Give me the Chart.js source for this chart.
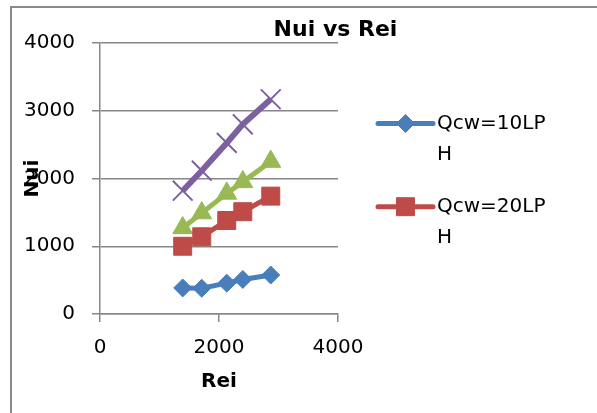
<!DOCTYPE html>
<html>
<head>
<meta charset="utf-8">
<script src="https://cdn.jsdelivr.net/npm/chart.js@4/dist/chart.umd.min.js"></script>
<style>
  html, body { margin: 0; padding: 0; background: #fff; overflow: hidden; }
  #wrap { position: relative; width: 597px; height: 413px; overflow: hidden; }
  #frame { position: absolute; left: 10px; top: 6px; right: -20px; bottom: -20px;
           border-left: 2px solid #898989; border-top: 2px solid #898989; pointer-events: none; }
  canvas { position: absolute; left: 0; top: 0; }
</style>
</head>
<body>
<div id="wrap">
  <canvas id="c" width="597" height="413"></canvas>
  <div id="frame"></div>
</div>
<script>
// ---- data ----
const chartTitle = "Nui vs Rei";
const xAxisTitle = "Rei";
const yAxisTitle = "Nui";
const reiValues = [1390, 1710, 2130, 2400, 2870];
const seriesNames = ["Qcw=10LPH", "Qcw=20LPH", "Qcw=30LPH", "Qcw=40LPH"];
const nuQcw10 = [385, 380, 455, 510, 575];
const nuQcw20 = [1000, 1140, 1380, 1510, 1740];
const nuQcw30 = [1270, 1490, 1780, 1950, 2250];
const nuQcw40 = [1820, 2115, 2525, 2800, 3170];
const xTicks = [0, 2000, 4000];
const yTicks = [0, 1000, 2000, 3000, 4000];
const legendShown = 2; // legend in the reference only shows the first two series

const colors = ["#4A7EBB", "#BE4B48", "#98B954", "#7D60A0"];
const markers = ["rectRot", "rect", "triangle", "crossRot"];
const markerRadius = [9, 12.7, 11.5, 14];

function toPoints(ys) { return reiValues.map((x, i) => ({ x: x, y: ys[i] })); }
const allSeries = [nuQcw10, nuQcw20, nuQcw30, nuQcw40];

const datasets = allSeries.map((ys, i) => ({
  label: seriesNames[i],
  data: toPoints(ys),
  borderColor: colors[i],
  backgroundColor: colors[i],
  borderWidth: i === 3 ? 6 : 5,
  pointStyle: markers[i],
  pointRadius: markerRadius[i],
  pointHoverRadius: markerRadius[i],
  pointBackgroundColor: colors[i],
  pointBorderColor: colors[i],
  pointBorderWidth: i === 3 ? 2 : 1,
  tension: 0,
  showLine: true,
  fill: false
}));

const FONT = "'DejaVu Sans', sans-serif";
const GRID = "#878787";

function wrapText(ctx, text, maxW) {
  const lines = []; let cur = "";
  for (const ch of text) {
    if (ctx.measureText(cur + ch).width > maxW && cur) { lines.push(cur); cur = ch; }
    else cur += ch;
  }
  if (cur) lines.push(cur);
  return lines;
}

const decorPlugin = {
  id: 'decor',
  afterDraw(chart) {
    const ctx = chart.ctx;
    ctx.save();
    // title
    ctx.font = "bold 22px " + FONT;
    ctx.fillStyle = "#000";
    ctx.textAlign = "center";
    ctx.textBaseline = "middle";
    ctx.fillText(chartTitle, 335.5, 30);
    // legend
    ctx.font = "20px " + FONT;
    ctx.textAlign = "left";
    const lx0 = 378, lx1 = 433, tx = 437;
    const rowY = [123.5, 206.7];
    const lineGap = 31.5;
    for (let i = 0; i < legendShown; i++) {
      const y = rowY[i];
      ctx.strokeStyle = colors[i];
      ctx.lineWidth = 5;
      ctx.lineCap = "round";
      ctx.beginPath(); ctx.moveTo(lx0, y); ctx.lineTo(lx1, y); ctx.stroke();
      ctx.lineWidth = 1;
      ctx.lineCap = "butt";
      ctx.fillStyle = colors[i];
      Chart.helpers.drawPoint(ctx, {
        pointStyle: markers[i], radius: markerRadius[i], rotation: 0,
        borderWidth: 1
      }, (lx0 + lx1) / 2, y);
      ctx.fillStyle = "#000";
      const lines = wrapText(ctx, seriesNames[i], 116);
      lines.forEach((ln, k) => ctx.fillText(ln, tx, y + k * lineGap));
    }
    ctx.restore();
  }
};

new Chart(document.getElementById('c'), {
  type: 'scatter',
  data: { datasets: datasets },
  options: {
    responsive: false,
    devicePixelRatio: 1,
    animation: false,
    events: [],
    layout: { padding: { left: 0, top: 43, right: 259, bottom: 0 } },
    plugins: { legend: { display: false }, title: { display: false }, tooltip: { enabled: false } },
    scales: {
      x: {
        type: 'linear', min: 0, max: 4000,
        afterFit(scale) { scale.height = 99; },
        afterBuildTicks(scale) { scale.ticks = xTicks.map(v => ({ value: v })); },
        grid: { drawOnChartArea: false, drawTicks: true, tickLength: 8, color: GRID, lineWidth: 1.5 },
        border: { display: true, color: GRID, width: 1.5 },
        ticks: { font: { family: FONT, size: 20 }, color: "#000", padding: 14, maxRotation: 0,
                 callback: (v) => String(v) },
        title: { display: true, text: xAxisTitle, color: "#000",
                 font: { family: FONT, size: 20, weight: 'bold' }, padding: { top: 0, bottom: 19 } }
      },
      y: {
        type: 'linear', min: 0, max: 4000,
        afterFit(scale) { scale.width = 100; },
        afterBuildTicks(scale) { scale.ticks = yTicks.map(v => ({ value: v })); },
        grid: { drawOnChartArea: true, drawTicks: true, tickLength: 8, color: GRID, lineWidth: 1.5 },
        border: { display: true, color: GRID, width: 1.5 },
        ticks: { font: { family: FONT, size: 20 }, color: "#000", padding: 17,
                 callback: (v) => String(v) },
        title: { display: true, text: yAxisTitle, color: "#000",
                 font: { family: FONT, size: 20, weight: 'bold' }, padding: { top: 21, bottom: 0 } }
      }
    }
  },
  plugins: [decorPlugin]
});
</script>
</body>
</html>
